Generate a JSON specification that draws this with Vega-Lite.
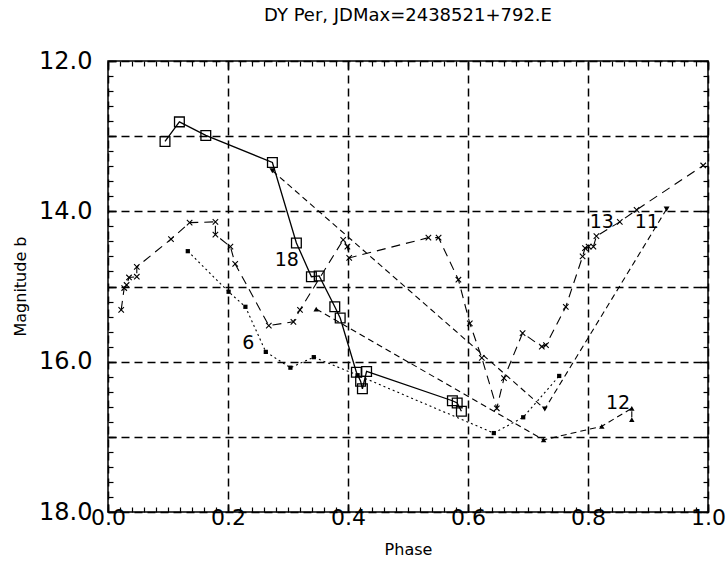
{
  "$schema": "https://vega.github.io/schema/vega-lite/v6.json",
  "width": 600,
  "height": 451,
  "autosize": {"type": "none"},
  "padding": {"left": 108, "top": 61, "right": 19, "bottom": 55},
  "background": "white",
  "title": {"text": "DY Per, JDMax=2438521+792.E", "font": "DejaVu Sans", "fontSize": 18, "fontWeight": "normal", "color": "black", "offset": 24, "anchor": "middle"},
  "config": {
    "view": {"stroke": "black", "strokeWidth": 1.5},
    "axis": {"domain": false, "tickColor": "black", "labelColor": "black", "titleColor": "black", "labelFont": "DejaVu Sans", "titleFont": "DejaVu Sans", "labelFontWeight": "normal", "titleFontWeight": "normal"}
  },
  "datasets": {
    "pts": [
      {"s": "18", "i": 1, "x": 0.095, "y": 13.07},
      {"s": "18", "i": 2, "x": 0.119, "y": 12.81},
      {"s": "18", "i": 3, "x": 0.163, "y": 12.99},
      {"s": "18", "i": 4, "x": 0.274, "y": 13.35},
      {"s": "18", "i": 5, "x": 0.314, "y": 14.42},
      {"s": "18", "i": 6, "x": 0.339, "y": 14.87},
      {"s": "18", "i": 7, "x": 0.352, "y": 14.86},
      {"s": "18", "i": 8, "x": 0.378, "y": 15.27},
      {"s": "18", "i": 9, "x": 0.387, "y": 15.42},
      {"s": "18", "i": 10, "x": 0.414, "y": 16.14},
      {"s": "18", "i": 11, "x": 0.421, "y": 16.26},
      {"s": "18", "i": 12, "x": 0.424, "y": 16.36},
      {"s": "18", "i": 13, "x": 0.431, "y": 16.13},
      {"s": "18", "i": 14, "x": 0.574, "y": 16.52},
      {"s": "18", "i": 15, "x": 0.582, "y": 16.55},
      {"s": "18", "i": 16, "x": 0.589, "y": 16.66},
      {"s": "6", "i": 1, "x": 0.133, "y": 14.53},
      {"s": "6", "i": 2, "x": 0.201, "y": 15.07},
      {"s": "6", "i": 3, "x": 0.229, "y": 15.27},
      {"s": "6", "i": 4, "x": 0.263, "y": 15.87},
      {"s": "6", "i": 5, "x": 0.304, "y": 16.08},
      {"s": "6", "i": 6, "x": 0.343, "y": 15.94},
      {"s": "6", "i": 7, "x": 0.416, "y": 16.18},
      {"s": "6", "i": 8, "x": 0.643, "y": 16.95},
      {"s": "6", "i": 9, "x": 0.692, "y": 16.74},
      {"s": "6", "i": 10, "x": 0.752, "y": 16.19},
      {"s": "11", "i": 1, "x": 0.274, "y": 13.46},
      {"s": "11", "i": 2, "x": 0.728, "y": 16.63},
      {"s": "11", "i": 3, "x": 0.931, "y": 13.97},
      {"s": "12", "i": 1, "x": 0.347, "y": 15.3},
      {"s": "12", "i": 2, "x": 0.726, "y": 17.04},
      {"s": "12", "i": 3, "x": 0.823, "y": 16.86},
      {"s": "12", "i": 4, "x": 0.873, "y": 16.62},
      {"s": "12", "i": 5, "x": 0.873, "y": 16.77},
      {"s": "13", "i": 1, "x": 0.022, "y": 15.31},
      {"s": "13", "i": 2, "x": 0.027, "y": 15.02},
      {"s": "13", "i": 3, "x": 0.031, "y": 14.98},
      {"s": "13", "i": 4, "x": 0.035, "y": 14.88},
      {"s": "13", "i": 5, "x": 0.048, "y": 14.87},
      {"s": "13", "i": 6, "x": 0.048, "y": 14.74},
      {"s": "13", "i": 7, "x": 0.105, "y": 14.37},
      {"s": "13", "i": 8, "x": 0.136, "y": 14.15},
      {"s": "13", "i": 9, "x": 0.179, "y": 14.14},
      {"s": "13", "i": 10, "x": 0.179, "y": 14.31},
      {"s": "13", "i": 11, "x": 0.204, "y": 14.47},
      {"s": "13", "i": 12, "x": 0.212, "y": 14.7},
      {"s": "13", "i": 13, "x": 0.268, "y": 15.52},
      {"s": "13", "i": 14, "x": 0.309, "y": 15.47},
      {"s": "13", "i": 15, "x": 0.32, "y": 15.31},
      {"s": "13", "i": 16, "x": 0.392, "y": 14.38},
      {"s": "13", "i": 17, "x": 0.399, "y": 14.47},
      {"s": "13", "i": 18, "x": 0.402, "y": 14.62},
      {"s": "13", "i": 19, "x": 0.534, "y": 14.35},
      {"s": "13", "i": 20, "x": 0.551, "y": 14.35},
      {"s": "13", "i": 21, "x": 0.584, "y": 14.91},
      {"s": "13", "i": 22, "x": 0.603, "y": 15.49},
      {"s": "13", "i": 23, "x": 0.623, "y": 15.95},
      {"s": "13", "i": 24, "x": 0.648, "y": 16.62},
      {"s": "13", "i": 25, "x": 0.66, "y": 16.22},
      {"s": "13", "i": 26, "x": 0.691, "y": 15.62},
      {"s": "13", "i": 27, "x": 0.723, "y": 15.8},
      {"s": "13", "i": 28, "x": 0.73, "y": 15.78},
      {"s": "13", "i": 29, "x": 0.763, "y": 15.27},
      {"s": "13", "i": 30, "x": 0.791, "y": 14.6},
      {"s": "13", "i": 31, "x": 0.795, "y": 14.49},
      {"s": "13", "i": 32, "x": 0.801, "y": 14.47},
      {"s": "13", "i": 33, "x": 0.809, "y": 14.47},
      {"s": "13", "i": 34, "x": 0.814, "y": 14.33},
      {"s": "13", "i": 35, "x": 0.853, "y": 14.14},
      {"s": "13", "i": 36, "x": 0.881, "y": 13.98},
      {"s": "13", "i": 37, "x": 0.992, "y": 13.39}
    ],
    "labels": [
      {"t": "18", "x": 0.298, "y": 14.65},
      {"t": "6", "x": 0.234, "y": 15.75},
      {"t": "13", "x": 0.823, "y": 14.14},
      {"t": "11", "x": 0.898, "y": 14.14},
      {"t": "12", "x": 0.85, "y": 16.55}
    ]
  },
  "layer": [
    {
      "data": {"name": "pts"},
      "mark": {"type": "point", "opacity": 0},
      "encoding": {
        "x": {"field": "x", "type": "quantitative", "scale": {"domain": [0, 1], "nice": false, "zero": false},
          "axis": {"orient": "bottom", "values": [0, 0.2, 0.4, 0.6, 0.8, 1.0], "format": ".1f", "grid": true, "gridColor": "black", "gridDash": [8, 5], "gridWidth": 1.5, "gridOpacity": 1, "tickSize": -8, "tickWidth": 1.5, "labelFontSize": 22, "labelPadding": 3, "labelDx": -4, "labelFlush": false, "title": "Phase", "titleFontSize": 16, "titleY": 37, "titleBaseline": "middle"}},
        "y": {"field": "y", "type": "quantitative", "scale": {"domain": [12, 18], "nice": false, "zero": false, "reverse": true},
          "axis": {"orient": "left", "values": [12, 13, 14, 15, 16, 17, 18], "labelExpr": "datum.value % 2 === 0 ? format(datum.value, '.1f') : ''", "grid": true, "gridColor": "black", "gridDash": [8, 5], "gridWidth": 1.5, "gridOpacity": 1, "tickSize": -8, "tickWidth": 1.5, "labelFontSize": 24, "labelPadding": 24, "labelFlush": false, "title": "Magnitude b", "titleFontSize": 16, "titleX": -88, "titleY": 225, "titleAngle": -90, "titleAlign": "center", "titleBaseline": "middle"}}
      }
    },
    {
      "data": {"name": "pts"},
      "mark": {"type": "point", "opacity": 0},
      "encoding": {
        "x": {"field": "x", "type": "quantitative", "scale": {"domain": [0, 1], "nice": false, "zero": false},
          "axis": {"orient": "bottom", "values": [0,0.02,0.04,0.06,0.08,0.1,0.12,0.14,0.16,0.18,0.2,0.22,0.24,0.26,0.28,0.3,0.32,0.34,0.36,0.38,0.4,0.42,0.44,0.46,0.48,0.5,0.52,0.54,0.56,0.58,0.6,0.62,0.64,0.66,0.68,0.7,0.72,0.74,0.76,0.78,0.8,0.82,0.84,0.86,0.88,0.9,0.92,0.94,0.96,0.98,1], "labels": false, "grid": false, "tickSize": -5, "tickWidth": 1.2, "title": null}},
        "y": {"field": "y", "type": "quantitative", "scale": {"domain": [12, 18], "nice": false, "zero": false, "reverse": true},
          "axis": {"orient": "left", "values": [12,12.2,12.4,12.6,12.8,13,13.2,13.4,13.6,13.8,14,14.2,14.4,14.6,14.8,15,15.2,15.4,15.6,15.8,16,16.2,16.4,16.6,16.8,17,17.2,17.4,17.6,17.8,18], "labels": false, "grid": false, "tickSize": -5, "tickWidth": 1.2, "title": null}}
      }
    },
    {
      "data": {"name": "pts"},
      "mark": {"type": "point", "opacity": 0},
      "encoding": {
        "x": {"field": "x", "type": "quantitative", "scale": {"domain": [0, 1], "nice": false, "zero": false},
          "axis": {"orient": "top", "values": [0,0.02,0.04,0.06,0.08,0.1,0.12,0.14,0.16,0.18,0.2,0.22,0.24,0.26,0.28,0.3,0.32,0.34,0.36,0.38,0.4,0.42,0.44,0.46,0.48,0.5,0.52,0.54,0.56,0.58,0.6,0.62,0.64,0.66,0.68,0.7,0.72,0.74,0.76,0.78,0.8,0.82,0.84,0.86,0.88,0.9,0.92,0.94,0.96,0.98,1], "labels": false, "grid": false, "tickSize": -5, "tickWidth": 1.2, "title": null}},
        "y": {"field": "y", "type": "quantitative", "scale": {"domain": [12, 18], "nice": false, "zero": false, "reverse": true},
          "axis": {"orient": "right", "values": [12,12.2,12.4,12.6,12.8,13,13.2,13.4,13.6,13.8,14,14.2,14.4,14.6,14.8,15,15.2,15.4,15.6,15.8,16,16.2,16.4,16.6,16.8,17,17.2,17.4,17.6,17.8,18], "labels": false, "grid": false, "tickSize": -5, "tickWidth": 1.2, "title": null}}
      }
    },
    {
      "data": {"name": "pts"},
      "mark": {"type": "point", "opacity": 0},
      "encoding": {
        "x": {"field": "x", "type": "quantitative", "scale": {"domain": [0, 1], "nice": false, "zero": false},
          "axis": {"orient": "top", "values": [0, 0.2, 0.4, 0.6, 0.8, 1.0], "labels": false, "grid": false, "tickSize": -8, "tickWidth": 1.5, "title": null}},
        "y": {"field": "y", "type": "quantitative", "scale": {"domain": [12, 18], "nice": false, "zero": false, "reverse": true},
          "axis": {"orient": "right", "values": [12, 13, 14, 15, 16, 17, 18], "labels": false, "grid": false, "tickSize": -8, "tickWidth": 1.5, "title": null}}
      }
    },
    {
      "data": {"name": "pts"},
      "transform": [{"filter": "datum.s === '18'"}],
      "mark": {"type": "line", "color": "black", "strokeWidth": 1.3},
      "encoding": {"x": {"field": "x", "type": "quantitative", "axis": null}, "y": {"field": "y", "type": "quantitative", "axis": null}, "order": {"field": "i"}}
    },
    {
      "data": {"name": "pts"},
      "transform": [{"filter": "datum.s === '18'"}],
      "mark": {"type": "point", "shape": "square", "filled": false, "color": "black", "size": 95, "strokeWidth": 1.3, "opacity": 1},
      "encoding": {"x": {"field": "x", "type": "quantitative", "axis": null}, "y": {"field": "y", "type": "quantitative", "axis": null}}
    },
    {
      "data": {"name": "pts"},
      "transform": [{"filter": "datum.s === '6'"}],
      "mark": {"type": "line", "color": "black", "strokeWidth": 1.1, "strokeDash": [2, 3]},
      "encoding": {"x": {"field": "x", "type": "quantitative", "axis": null}, "y": {"field": "y", "type": "quantitative", "axis": null}, "order": {"field": "i"}}
    },
    {
      "data": {"name": "pts"},
      "transform": [{"filter": "datum.s === '6'"}],
      "mark": {"type": "point", "shape": "square", "filled": true, "color": "black", "size": 18, "opacity": 1},
      "encoding": {"x": {"field": "x", "type": "quantitative", "axis": null}, "y": {"field": "y", "type": "quantitative", "axis": null}}
    },
    {
      "data": {"name": "pts"},
      "transform": [{"filter": "datum.s === '11' || datum.s === '12'"}],
      "mark": {"type": "line", "color": "black", "strokeWidth": 1.1, "strokeDash": [6, 4]},
      "encoding": {"x": {"field": "x", "type": "quantitative", "axis": null}, "y": {"field": "y", "type": "quantitative", "axis": null}, "detail": {"field": "s"}, "order": {"field": "i"}}
    },
    {
      "data": {"name": "pts"},
      "transform": [{"filter": "datum.s === '11'"}],
      "mark": {"type": "point", "shape": "triangle-down", "filled": true, "color": "black", "size": 35, "opacity": 1},
      "encoding": {"x": {"field": "x", "type": "quantitative", "axis": null}, "y": {"field": "y", "type": "quantitative", "axis": null}}
    },
    {
      "data": {"name": "pts"},
      "transform": [{"filter": "datum.s === '12'"}],
      "mark": {"type": "point", "shape": "triangle-up", "filled": true, "color": "black", "size": 30, "opacity": 1},
      "encoding": {"x": {"field": "x", "type": "quantitative", "axis": null}, "y": {"field": "y", "type": "quantitative", "axis": null}}
    },
    {
      "data": {"name": "pts"},
      "transform": [{"filter": "datum.s === '13'"}],
      "mark": {"type": "line", "color": "black", "strokeWidth": 1.1, "strokeDash": [9, 6]},
      "encoding": {"x": {"field": "x", "type": "quantitative", "axis": null}, "y": {"field": "y", "type": "quantitative", "axis": null}, "order": {"field": "i"}}
    },
    {
      "data": {"name": "pts"},
      "transform": [{"filter": "datum.s === '13'"}],
      "mark": {"type": "point", "shape": "M-1,-1L1,1M-1,1L1,-1", "filled": false, "color": "black", "size": 30, "strokeWidth": 1.1, "opacity": 1},
      "encoding": {"x": {"field": "x", "type": "quantitative", "axis": null}, "y": {"field": "y", "type": "quantitative", "axis": null}}
    },
    {
      "data": {"name": "labels"},
      "mark": {"type": "text", "font": "DejaVu Sans", "fontWeight": "normal", "fontSize": 19, "color": "black", "align": "center", "baseline": "middle"},
      "encoding": {"x": {"field": "x", "type": "quantitative", "axis": null}, "y": {"field": "y", "type": "quantitative", "axis": null}, "text": {"field": "t"}}
    }
  ],
  "resolve": {"axis": {"x": "independent", "y": "independent"}}
}
